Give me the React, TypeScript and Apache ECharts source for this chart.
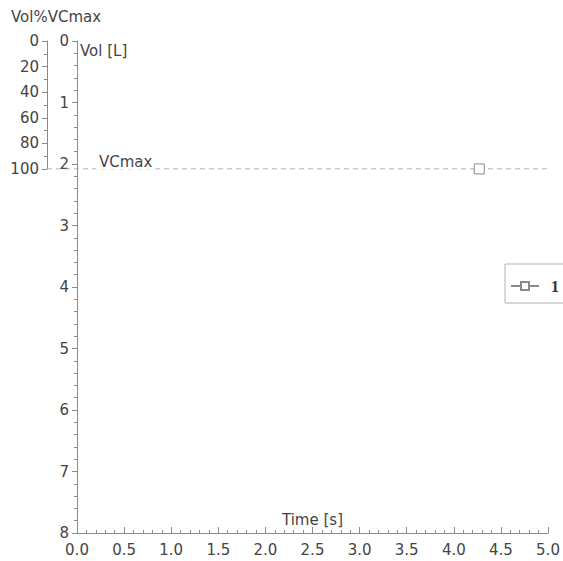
import React, { useEffect, useRef } from "react";
import * as echarts from "echarts";

const timeRange = [0, 5];
const volRange = [0, 8];
const pctTicks = [0, 20, 40, 60, 80, 100];
const vcMaxPct = 100;
const seriesName = "1";
const markerPoint: [number, number] = [4.27, 2.08];
const vcLine: [number, number][] = [[0, vcMaxPct], [1, vcMaxPct]];

const FONT = "DejaVu Sans";
const TXT = "#444";
const AX = "#8a8a8a";
const FS = 15;

export default function App() {
  const ref = useRef<HTMLDivElement>(null);
  useEffect(() => {
    const chart = echarts.init(ref.current!, null, { renderer: "svg" });
    chart.setOption({
      animation: false,
      backgroundColor: "#fff",
      grid: [
        { left: 77, top: 41, width: 471, height: 492, containLabel: false, outerBoundsMode: "none" },
        { left: 47, top: 41, width: 501, height: 128, containLabel: false, outerBoundsMode: "none" },
      ],
      legend: {
        orient: "vertical",
        left: 505,
        top: 264,
        padding: [14, 6, 9, 5],
        borderColor: "#b0b0b0",
        borderWidth: 1,
        itemWidth: 28,
        itemHeight: 10,
        data: [seriesName],
        textStyle: { fontFamily: "Liberation Serif", fontSize: 16, fontWeight: "bold", color: "#333", padding: [0, 0, 0, 7] },
      },
      xAxis: [
        {
          gridIndex: 0,
          type: "value",
          position: "bottom",
          min: timeRange[0],
          max: timeRange[1],
          interval: 0.5,
          name: "Time [s]",
          nameLocation: "middle",
          nameGap: -21,
          nameMoveOverlap: false,
          nameTextStyle: { fontFamily: FONT, fontSize: FS, color: TXT },
          axisLine: { show: true, onZero: false, lineStyle: { color: AX } },
          axisTick: { show: true, inside: true, length: 6, lineStyle: { color: AX } },
          minorTick: { show: true, splitNumber: 5, length: 3, lineStyle: { color: AX } },
          splitLine: { show: false },
          axisLabel: { fontFamily: FONT, fontSize: FS, color: TXT, margin: 9, formatter: (v: number) => v.toFixed(1) },
        },
        { gridIndex: 1, type: "value", min: 0, max: 1, show: false },
      ],
      yAxis: [
        {
          gridIndex: 0,
          type: "value",
          inverse: true,
          min: volRange[0],
          max: volRange[1],
          interval: 1,
          name: "Vol [L]",
          nameLocation: "start",
          nameGap: -17,
          nameMoveOverlap: false,
          nameTextStyle: { fontFamily: FONT, fontSize: FS, color: TXT, align: "left", padding: [0, 0, 0, 3] },
          axisLine: { show: true, onZero: false, lineStyle: { color: AX } },
          axisTick: { show: true, length: 5, lineStyle: { color: AX } },
          minorTick: { show: true, splitNumber: 5, length: 3, lineStyle: { color: AX } },
          splitLine: { show: false },
          axisLabel: { fontFamily: FONT, fontSize: FS, color: TXT, margin: 8 },
        },
        {
          gridIndex: 1,
          type: "value",
          inverse: true,
          min: pctTicks[0],
          max: pctTicks[pctTicks.length - 1],
          interval: 20,
          axisLine: { show: true, onZero: false, lineStyle: { color: AX } },
          axisTick: { show: true, length: 5, lineStyle: { color: AX } },
          minorTick: { show: true, splitNumber: 2, length: 3, lineStyle: { color: AX } },
          splitLine: { show: false },
          axisLabel: { fontFamily: FONT, fontSize: FS, color: TXT, margin: 8 },
        },
      ],
      graphic: [
        {
          type: "text",
          left: 11,
          top: 9,
          style: { text: "Vol%VCmax", fontFamily: FONT, fontSize: FS, fill: TXT },
        },
        {
          type: "text",
          left: 96,
          top: 154,
          z: 100,
          style: {
            text: "VCmax",
            fontFamily: FONT,
            fontSize: FS,
            fill: TXT,
            backgroundColor: "#fff",
            padding: [0, 3, 0, 3],
          },
        },
      ],
      series: [
        {
          type: "line",
          xAxisIndex: 1,
          yAxisIndex: 1,
          data: vcLine,
          symbol: "none",
          silent: true,
          lineStyle: { color: "#999", width: 1, type: [5, 4] },
        },
        {
          name: seriesName,
          type: "line",
          xAxisIndex: 0,
          yAxisIndex: 0,
          data: [markerPoint],
          symbol: "rect",
          symbolSize: 10,
          showSymbol: true,
          itemStyle: { color: "#fff", borderColor: "#8a8a8a", borderWidth: 1 },
          lineStyle: { color: "#8a8a8a", width: 1 },
        },
      ],
    });
    return () => chart.dispose();
  }, []);
  return <div ref={ref} style={{ position: "fixed", left: 0, top: 0, width: 563, height: 561 }} />;
}
